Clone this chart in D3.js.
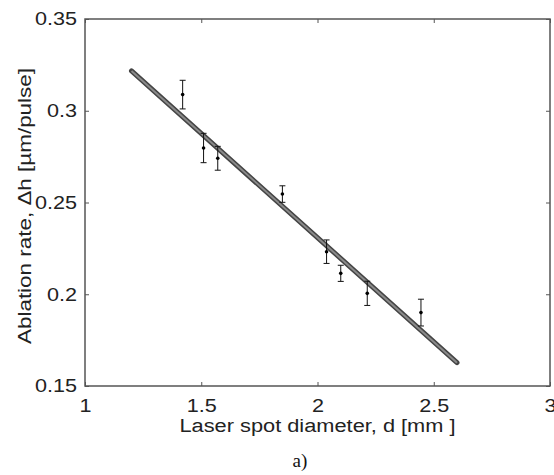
<!DOCTYPE html>
<html>
<head>
<meta charset="utf-8">
<script src="https://cdn.jsdelivr.net/npm/d3@7"></script>
<style>
  html, body { margin: 0; padding: 0; background: #fff; }
  svg { display: block; }
</style>
</head>
<body>
<div id="chart"></div>
<script>
// measured data: spot diameter d [mm] vs ablation rate dh [um/pulse]
var diameters = [1.42, 1.51, 1.571, 1.849, 2.039, 2.10, 2.214, 2.445];
var rates     = [0.3088, 0.2797, 0.2741, 0.2546, 0.2232, 0.2114, 0.2005, 0.190];
var errors    = [0.0078, 0.0080, 0.0065, 0.0045, 0.0064, 0.0044, 0.0066, 0.0073];

// linear fit endpoints
var fitX = [1.2, 2.6];
var fitY = [0.3217, 0.1627];

var xTicks = [1, 1.5, 2, 2.5, 3];
var yTicks = [0.15, 0.2, 0.25, 0.3, 0.35];

var W = 554, H = 475;
var margin = {top: 19, right: 4, bottom: 89, left: 85};
var width = W - margin.left - margin.right;
var height = H - margin.top - margin.bottom;

var svg = d3.select("#chart")
  .append("svg")
    .attr("width", W)
    .attr("height", H);

var g = svg.append("g")
  .attr("transform", "translate(" + margin.left + "," + margin.top + ")");

var x = d3.scaleLinear().domain([1, 3]).range([0, width]);
var y = d3.scaleLinear().domain([0.15, 0.35]).range([height, 0]);

var fontFam = "'Liberation Sans', Arial, Helvetica, sans-serif";
var boxColor = "#555";

// stretch glyphs a bit, the original font runs wider than Arial
function widen(sel, k) {
  sel.each(function () {
    var w = this.getComputedTextLength();
    this.setAttribute("textLength", w * k);
    this.setAttribute("lengthAdjust", "spacingAndGlyphs");
  });
}

// bottom axis
var xAxis = g.append("g")
  .attr("transform", "translate(0," + height + ")")
  .call(d3.axisBottom(x).tickValues(xTicks).tickFormat(d3.format("")).tickSizeInner(-4).tickSizeOuter(0).tickPadding(8));
xAxis.select(".domain").remove();
xAxis.selectAll("line").attr("stroke", boxColor);
xAxis.selectAll("text")
  .style("font-family", fontFam)
  .style("font-size", "18px")
  .attr("fill", "#222")
  .attr("y", 26).attr("dy", 0)
  .call(widen, 1.2);

// left axis
var yAxis = g.append("g")
  .call(d3.axisLeft(y).tickValues(yTicks).tickFormat(d3.format("")).tickSizeInner(-4).tickSizeOuter(0).tickPadding(8));
yAxis.select(".domain").remove();
yAxis.selectAll("line").attr("stroke", boxColor);
yAxis.selectAll("text")
  .style("font-family", fontFam)
  .style("font-size", "18px")
  .attr("fill", "#222")
  .attr("x", -8)
  .call(widen, 1.2);

// top and right ticks, no labels
var topAxis = g.append("g")
  .call(d3.axisTop(x).tickValues(xTicks).tickFormat("").tickSizeInner(-4).tickSizeOuter(0));
topAxis.select(".domain").remove();
topAxis.selectAll("line").attr("stroke", boxColor);

var rightAxis = g.append("g")
  .attr("transform", "translate(" + width + ",0)")
  .call(d3.axisRight(y).tickValues(yTicks).tickFormat("").tickSizeInner(-4).tickSizeOuter(0));
rightAxis.select(".domain").remove();
rightAxis.selectAll("line").attr("stroke", boxColor);

// frame
g.append("rect")
  .attr("x", 0).attr("y", 0)
  .attr("width", width).attr("height", height)
  .attr("fill", "none")
  .attr("stroke", boxColor)
  .attr("stroke-width", 1.5);

// fit line: dark outline with grey core
var fitData = fitX.map(function (d, i) { return [d, fitY[i]]; });
var line = d3.line().x(function (d) { return x(d[0]); }).y(function (d) { return y(d[1]); });
g.append("path")
  .datum(fitData)
  .attr("d", line)
  .attr("stroke", "#444")
  .attr("stroke-width", 5)
  .attr("stroke-linecap", "round")
  .attr("fill", "none");
g.append("path")
  .datum(fitData)
  .attr("d", line)
  .attr("stroke", "#8a8a8a")
  .attr("stroke-width", 2)
  .attr("fill", "none");

// error bars
var pts = diameters.map(function (d, i) { return {d: d, r: rates[i], e: errors[i]}; });
var bars = g.selectAll(".ebar").data(pts).enter().append("g").attr("class", "ebar");
bars.append("line")
  .attr("x1", function (d) { return x(d.d); })
  .attr("x2", function (d) { return x(d.d); })
  .attr("y1", function (d) { return y(d.r + d.e); })
  .attr("y2", function (d) { return y(d.r - d.e); })
  .attr("stroke", "#111").attr("stroke-width", 1);
[1, -1].forEach(function (s) {
  bars.append("line")
    .attr("x1", function (d) { return x(d.d) - 3; })
    .attr("x2", function (d) { return x(d.d) + 3; })
    .attr("y1", function (d) { return y(d.r + s * d.e); })
    .attr("y2", function (d) { return y(d.r + s * d.e); })
    .attr("stroke", "#111").attr("stroke-width", 1);
});
bars.append("circle")
  .attr("cx", function (d) { return x(d.d); })
  .attr("cy", function (d) { return y(d.r); })
  .attr("r", 1.8)
  .attr("fill", "#000");

// axis titles
svg.append("text")
  .attr("x", margin.left + width / 2)
  .attr("y", 432)
  .attr("text-anchor", "middle")
  .style("font-family", fontFam)
  .style("font-size", "18px")
  .attr("fill", "#222")
  .attr("textLength", 276)
  .attr("lengthAdjust", "spacingAndGlyphs")
  .text("Laser spot diameter, d [mm ]");

svg.append("text")
  .attr("transform", "translate(31,206) rotate(-90)")
  .attr("text-anchor", "middle")
  .style("font-family", fontFam)
  .style("font-size", "18px")
  .attr("fill", "#222")
  .attr("textLength", 276)
  .attr("lengthAdjust", "spacingAndGlyphs")
  .text("Ablation rate,  \u0394h [\u00b5m/pulse]");

svg.append("text")
  .attr("x", 300)
  .attr("y", 467)
  .attr("text-anchor", "middle")
  .style("font-family", "'Liberation Serif', 'Times New Roman', serif")
  .style("font-size", "19px")
  .attr("fill", "#111")
  .text("a)");
</script>
</body>
</html>
